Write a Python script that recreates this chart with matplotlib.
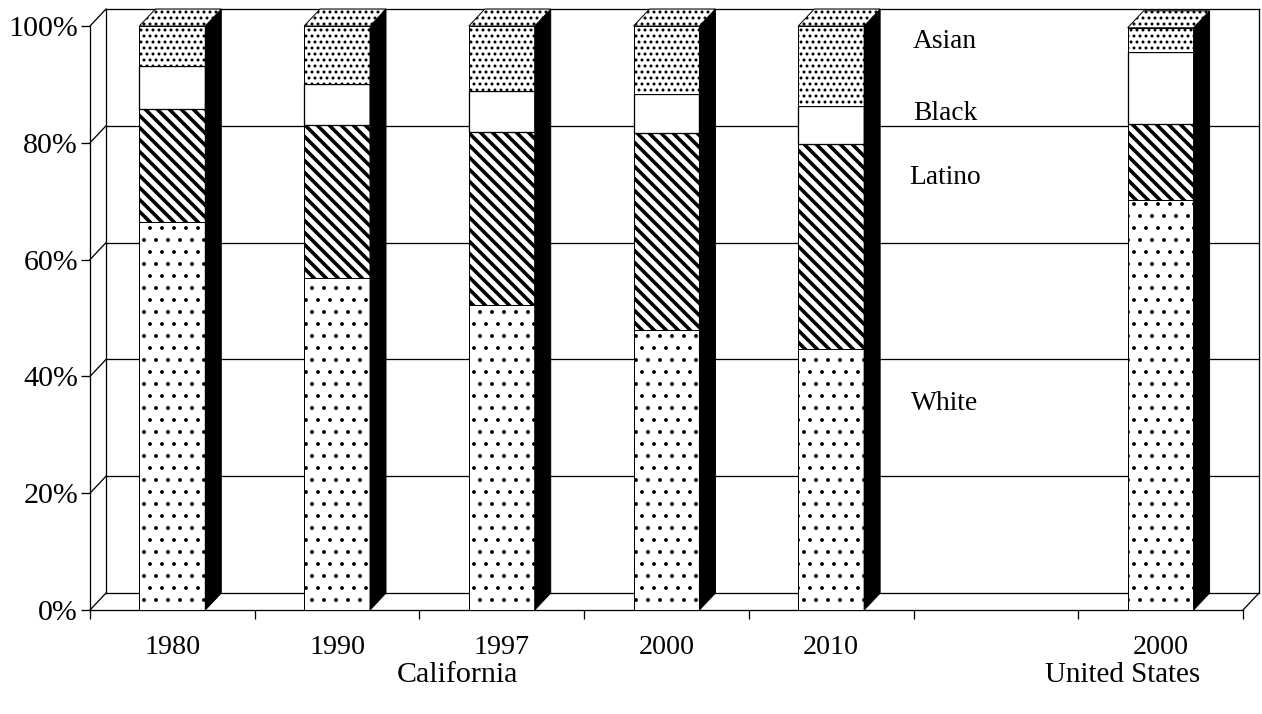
import matplotlib
matplotlib.use('Agg')
import matplotlib.pyplot as plt
import numpy as np

# share of population by group
years = ['1980', '1990', '1997', '2000', '2010', '', '2000']
white = [66.4, 56.8, 52.2, 47.9, 44.7, 0, 70.2]
latino = [19.4, 26.2, 29.6, 33.8, 35.1, 0, 13.0]
black = [7.4, 7.0, 7.1, 6.7, 6.5, 0, 12.3]
asian = [6.8, 10.0, 11.1, 11.6, 13.7, 0, 4.2]
yticks = [0, 20, 40, 60, 80, 100]
series_names = ['White', 'Latino', 'Black', 'Asian']
name_y = [35.3, 74.1, 85.0, 97.3]

plt.rcParams['font.family'] = ['Liberation Serif', 'DejaVu Serif']

fig = plt.figure(figsize=(1262 / 72, 714 / 72), dpi=72)
ax = fig.add_axes([90 / 1262, 104 / 714, 1153 / 1262, 584 / 714])
ax.set_xlim(0, 7)
ax.set_ylim(0, 100)

# depth of the fake 3d box
dx = 0.097
dy = 2.9
lw = 1.3

# back wall and floor
for v in yticks:
    ax.plot([dx, 7 + dx], [v + dy, v + dy], color='k', lw=lw, zorder=1, clip_on=False)
    ax.plot([0, dx], [v, v + dy], color='k', lw=lw, zorder=1, clip_on=False)
ax.plot([dx, dx], [dy, 100 + dy], color='k', lw=lw, zorder=1, clip_on=False)
ax.plot([7 + dx, 7 + dx], [dy, 100 + dy], color='k', lw=lw, zorder=1, clip_on=False)
ax.plot([7, 7 + dx], [0, dy], color='k', lw=lw, zorder=1, clip_on=False)

x = np.arange(len(years)) + 0.5
w = 0.4
keep = [i for i in range(len(years)) if years[i] != '']
xs = x[keep]
wh = np.array(white)[keep]
la = np.array(latino)[keep]
bl = np.array(black)[keep]
az = np.array(asian)[keep]

# the patches pick up hatch.linewidth when they are made
with plt.rc_context({'hatch.linewidth': 1.4}):
    ax.bar(xs, wh, w, color='w', edgecolor='k', hatch='.', lw=1, zorder=3)
with plt.rc_context({'hatch.linewidth': 3.6}):
    ax.bar(xs, la, w, bottom=wh, color='w', edgecolor='k', hatch='\\\\', lw=1, zorder=3)
ax.bar(xs, bl, w, bottom=wh + la, color='w', edgecolor='k', lw=1.3, zorder=3)

# side and top of each bar
tops = wh + la + bl + az
with plt.rc_context({'hatch.linewidth': 1.8}):
    ax.bar(xs, az, w, bottom=wh + la + bl, color='w', edgecolor='k', hatch='..', lw=1, zorder=3)
    for c, t in zip(xs, tops):
        l = c - w / 2
        r = c + w / 2
        ax.fill([r, r + dx, r + dx, r], [0, dy, t + dy, t], color='k', zorder=4, clip_on=False)
        ax.fill([l, l + dx, r + dx, r], [t, t + dy, t + dy, t], facecolor='w', edgecolor='k',
                hatch='..', lw=1, zorder=4, clip_on=False)

# axes
ax.spines['top'].set_visible(False)
ax.spines['right'].set_visible(False)
ax.spines['left'].set_linewidth(lw)
ax.spines['bottom'].set_linewidth(lw)
ax.set_yticks(yticks)
ax.set_yticklabels([str(v) + '%' for v in yticks], fontsize=30)
ax.set_xticks(range(8))
ax.set_xticklabels([])
ax.set_xticks(x, minor=True)
ax.set_xticklabels(years, minor=True, fontsize=28)
ax.tick_params(axis='x', which='major', length=9, width=lw)
ax.tick_params(axis='x', which='minor', length=0, pad=25)
ax.tick_params(axis='y', length=9, width=lw, pad=3)

# series names in the empty slot
for name, ny in zip(series_names, name_y):
    ax.text(5.19, ny, name, fontsize=27.5, ha='center', va='center', zorder=5)

ax.text(2.23, -11.1, 'California', fontsize=30, ha='center', va='center')
ax.text(6.27, -11.1, 'United States', fontsize=29, ha='center', va='center')

fig.savefig('out.png', dpi=72)
